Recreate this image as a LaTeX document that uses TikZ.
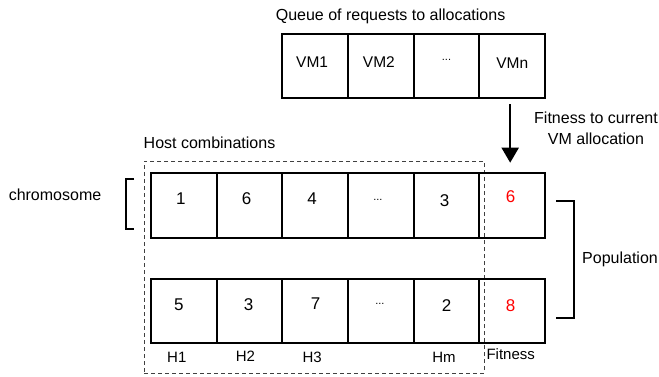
\documentclass[tikz,border=0pt]{standalone}
\usepackage{fontspec}
\setmainfont{Liberation Sans}
\usetikzlibrary{arrows.meta}
\begin{document}
\begin{tikzpicture}[x=1pt,y=-1pt,
  cell/.style={draw, line width=2pt, minimum width=65.67pt, minimum height=64.4pt, inner sep=0pt},
  celltext/.style={inner sep=0pt, font=\fontsize{17}{19}\selectfont},
  vmtext/.style={inner sep=0pt, font=\fontsize{15.5}{18}\selectfont},
  fitval/.style={celltext, text=red},
  dots/.style={inner sep=0pt, font=\fontsize{11}{12}\selectfont},
  lbl/.style={inner sep=0pt, font=\fontsize{16}{21}\selectfont},
  collbl/.style={inner sep=0pt, font=\fontsize{15}{17}\selectfont},
  bracket/.style={line width=2pt},
  hostbox/.style={draw=black!75, dash pattern=on 4pt off 3pt, line width=1pt, inner sep=0pt},
  arr/.style={line width=2pt, -{Triangle[length=15pt,width=17pt]}}]
\useasboundingbox (0,0) rectangle (659,376);

% host combination frame (dashed)
\node[hostbox, minimum width=340pt, minimum height=212pt] (hosts) at (314,267) {};
\node[lbl, anchor=base west] (hostlbl) at ([yshift=12.5pt]hosts.north west) {Host combinations};

% two chromosomes of six cells, and the queue of four cells
\foreach \k in {1,...,6} {
  \node[cell] (a\k) at ({151+(\k-0.5)*65.67}, 205.5) {};
  \node[cell] (b\k) at ({151+(\k-0.5)*65.67}, 310.7) {};
}
\foreach \k in {3,...,6}
  \node[cell] (q\k) at ({151+(\k-0.5)*65.67}, 66.2) {};

% queue
\node[lbl, anchor=base west] (qtitle) at ([xshift=-5.7pt, yshift=12.3pt]q3.north west) {Queue of requests to allocations};
\node[vmtext] (t-q3) at ([xshift=-3pt, yshift=4.5pt]q3.center) {VM1};
\node[vmtext] (t-q4) at ([xshift=-2pt, yshift=4.5pt]q4.center) {VM2};
\node[dots]   (t-q5) at ([yshift=6pt]q5.center) {...};
\node[vmtext] (t-q6) at ([yshift=3.5pt]q6.center) {VMn};

% first chromosome
\node[celltext] (t-a1) at ([xshift=-3pt, yshift=6.5pt]a1.center) {1};
\node[celltext] (t-a2) at ([xshift=-3pt, yshift=6.5pt]a2.center) {6};
\node[celltext] (t-a3) at ([xshift=-3pt, yshift=6.5pt]a3.center) {4};
\node[dots]     (t-a4) at ([xshift=-3pt, yshift=6pt]a4.center) {...};
\node[celltext] (t-a5) at ([xshift=-2pt, yshift=4.5pt]a5.center) {3};
\node[fitval]   (t-a6) at ([xshift=-1.5pt, yshift=8.5pt]a6.center) {6};

% second chromosome
\node[celltext] (t-b1) at ([xshift=-5pt, yshift=5.7pt]b1.center) {5};
\node[celltext] (t-b2) at ([xshift=-1pt, yshift=5.7pt]b2.center) {3};
\node[celltext] (t-b3) at ([xshift=0.5pt, yshift=6.7pt]b3.center) {7};
\node[dots]     (t-b4) at ([xshift=-1pt, yshift=7pt]b4.center) {...};
\node[celltext] (t-b5) at ([yshift=5pt]b5.center) {2};
\node[fitval]   (t-b6) at ([xshift=-1.5pt, yshift=5pt]b6.center) {8};

% column captions
\node[collbl] (h1) at ([xshift=-7pt, yshift=-13.5pt]b1.south) {H1};
\node[collbl] (h2) at ([xshift=-4pt, yshift=-12pt]b2.south) {H2};
\node[collbl] (h3) at ([xshift=-3pt, yshift=-13.5pt]b3.south) {H3};
\node[collbl] (hm) at ([xshift=-2.5pt, yshift=-13.5pt]b5.south) {Hm};
\node[collbl] (fit) at ([xshift=-1.5pt, yshift=-10.5pt]b6.south) {Fitness};

% fitness evaluation of the current VM allocation
\draw[arr, shorten <=4.6pt, shorten >=9.6pt] ([xshift=-2pt]q6.south) -- ([xshift=-2pt]a6.north);
\node[lbl, align=center] (fitlbl) at (596,128.5) {Fitness to current\\VM allocation};

% chromosome bracket
\node[lbl] (chrom) at (55,195) {chromosome};
\draw[bracket] (134,179) -- (126,179) -- (126,229) -- (134,229);

% population bracket
\draw[bracket] (556,201) -- (574,201) -- (574,318) -- (556,318);
\node[lbl] (pop) at (620,259) {Population};
\end{tikzpicture}
\end{document}
